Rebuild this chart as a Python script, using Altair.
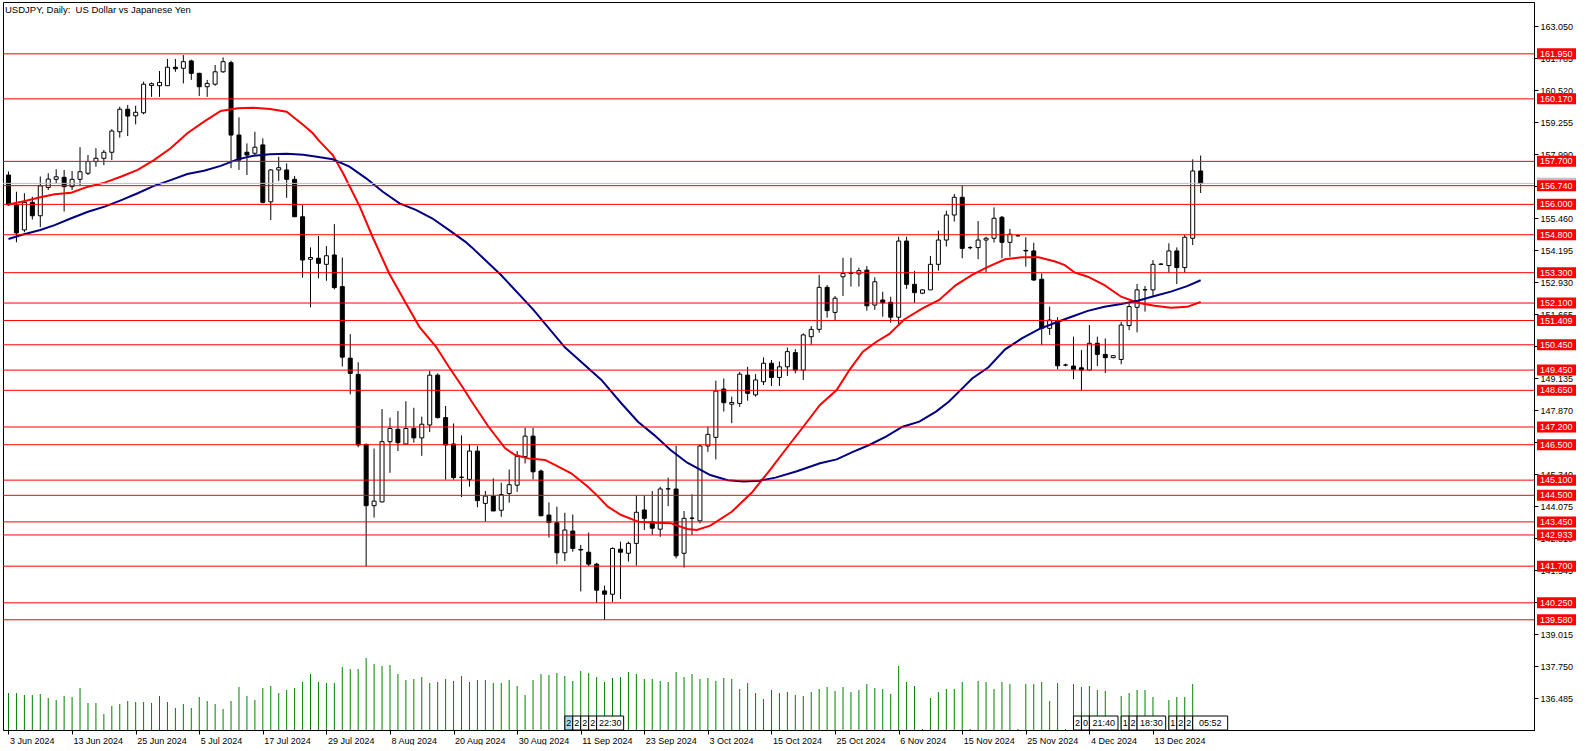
import altair as alt
import pandas as pd

# ---------------- data ----------------
date_labels = ["3 Jun 2024", "13 Jun 2024", "25 Jun 2024", "5 Jul 2024", "17 Jul 2024",
               "29 Jul 2024", "8 Aug 2024", "20 Aug 2024", "30 Aug 2024", "11 Sep 2024",
               "23 Sep 2024", "3 Oct 2024", "15 Oct 2024", "25 Oct 2024", "6 Nov 2024",
               "15 Nov 2024", "25 Nov 2024", "4 Dec 2024", "13 Dec 2024"]
label_bars = [0, 8, 16, 24, 32, 40, 48, 56, 64, 72, 80, 88, 96, 104, 112, 120, 128, 136, 144]

opens = [157.16, 155.97, 154.99, 156.08, 155.55, 156.67, 156.99, 157.07, 156.70, 156.99,
         157.23, 157.69, 157.82, 158.06, 158.87, 159.76, 159.50, 159.62, 160.70, 160.69,
         160.69, 161.42, 161.38, 161.67, 161.18, 160.65, 160.75, 161.24, 161.60, 158.74,
         158.06, 158.02, 158.35, 156.10, 157.36, 157.36, 156.99, 155.51, 153.83, 153.87,
         153.63, 154.00, 152.75, 149.92, 149.28, 146.51, 144.09, 144.24, 146.62, 147.11,
         146.53, 147.14, 146.77, 147.28, 149.25, 147.57, 146.53, 145.21, 145.13, 146.25,
         144.18, 144.47, 143.91, 144.57, 144.90, 146.03, 146.84, 145.46, 143.72, 143.42,
         142.23, 143.09, 142.36, 142.25, 141.78, 140.72, 140.59, 142.37, 142.21, 142.60,
         143.92, 143.46, 143.16, 144.75, 144.75, 142.21, 143.59, 143.49, 146.45, 146.79,
         148.70, 148.10, 148.13, 149.25, 148.47, 148.99, 149.72, 149.16, 149.58, 150.14,
         149.45, 150.77, 151.06, 152.72, 151.73, 153.14, 153.27, 153.25, 153.40, 152.02,
         152.22, 152.13, 151.54, 154.55, 152.84, 152.49, 152.62, 153.63, 154.59, 155.58,
         156.28, 154.29, 154.29, 154.59, 154.66, 155.49, 154.50, 154.76, 154.18, 154.16,
         153.04, 151.10, 151.39, 149.65, 149.61, 149.54, 149.45, 150.51, 150.07, 149.94,
         149.87, 151.21, 151.93, 152.62, 152.62, 153.63, 153.58, 154.16, 153.50, 154.66,
         157.32]
highs = [157.30, 156.50, 156.44, 156.30, 157.10, 157.23, 157.39, 157.36, 157.32, 158.26,
         157.95, 158.22, 158.15, 158.97, 159.86, 159.93, 159.90, 160.85, 160.82, 161.27,
         161.75, 161.75, 161.90, 161.72, 161.20, 160.92, 161.51, 161.81, 161.68, 159.44,
         158.41, 158.87, 158.61, 157.40, 157.88, 157.62, 157.12, 155.97, 154.30, 154.75,
         154.35, 155.22, 153.90, 150.87, 149.76, 146.55, 146.35, 147.91, 147.57, 147.83,
         148.22, 147.96, 147.61, 149.43, 149.32, 148.03, 147.34, 146.87, 146.53, 146.46,
         144.67, 145.17, 145.00, 145.52, 146.25, 147.17, 147.17, 145.52, 144.22, 144.05,
         143.81, 143.74, 142.54, 143.03, 141.83, 140.93, 142.44, 142.67, 142.67, 144.49,
         144.49, 144.67, 144.84, 145.20, 146.46, 143.88, 144.54, 146.51, 147.21, 149.03,
         149.12, 148.40, 149.38, 149.58, 149.29, 149.95, 149.85, 149.79, 150.34, 150.28,
         150.90, 151.19, 153.21, 152.81, 152.38, 153.89, 153.89, 153.50, 153.56, 153.12,
         152.55, 152.35, 154.72, 154.72, 153.37, 152.64, 153.96, 154.96, 155.75, 156.41,
         156.74, 154.35, 155.34, 154.72, 155.88, 155.54, 155.03, 154.80, 154.70, 154.48,
         153.27, 151.96, 151.54, 149.70, 150.77, 150.24, 151.23, 150.77, 150.70, 150.04,
         151.36, 152.09, 152.85, 152.77, 153.80, 153.68, 154.46, 154.30, 154.79, 157.78,
         157.93]
lows = [155.95, 154.50, 154.90, 155.40, 155.10, 156.57, 156.83, 155.72, 156.57, 156.76,
        157.16, 157.49, 157.55, 157.75, 158.64, 158.70, 159.16, 159.56, 160.25, 160.25,
        160.69, 161.24, 160.78, 160.92, 160.28, 160.25, 160.69, 161.20, 157.43, 157.36,
        157.16, 157.95, 156.04, 155.38, 156.93, 156.26, 155.51, 153.10, 151.93, 153.08,
        152.98, 152.64, 149.59, 148.49, 146.40, 141.70, 143.62, 144.22, 145.39, 146.25,
        146.49, 146.58, 146.06, 147.00, 147.54, 145.12, 145.12, 144.43, 144.84, 144.03,
        143.46, 143.88, 143.65, 144.21, 144.64, 145.76, 145.13, 143.69, 142.83, 141.77,
        141.90, 142.27, 140.70, 141.70, 140.25, 139.57, 140.29, 140.40, 141.88, 141.72,
        143.13, 142.93, 142.86, 144.07, 142.01, 141.64, 142.93, 143.39, 146.22, 145.92,
        147.81, 147.35, 148.00, 148.24, 148.40, 148.86, 148.82, 148.82, 149.22, 149.32,
        149.06, 150.44, 150.93, 151.52, 151.40, 152.38, 152.75, 152.75, 151.80, 151.83,
        151.56, 151.32, 151.23, 152.66, 152.11, 152.45, 152.62, 153.38, 154.33, 155.32,
        153.87, 154.22, 153.83, 153.31, 154.49, 153.87, 153.93, 154.72, 153.54, 152.98,
        150.44, 150.84, 149.48, 149.60, 149.09, 148.66, 149.45, 149.61, 149.33, 149.92,
        149.68, 151.03, 150.94, 151.76, 152.39, 153.60, 153.30, 152.85, 153.30, 154.39,
        156.45]
closes = [155.98, 154.87, 156.08, 155.55, 156.73, 157.00, 157.09, 156.70, 156.99, 157.29,
          157.69, 157.82, 158.06, 158.90, 159.76, 159.49, 159.64, 160.75, 160.77, 160.82,
          161.42, 161.36, 161.64, 161.18, 160.65, 160.78, 161.24, 161.64, 158.74, 157.75,
          157.95, 158.26, 156.08, 157.36, 157.45, 156.99, 155.51, 153.80, 153.90, 153.67,
          153.97, 152.71, 149.96, 149.32, 146.49, 144.09, 144.27, 146.62, 147.14, 146.58,
          147.14, 146.77, 147.31, 149.25, 147.57, 146.49, 145.20, 145.22, 146.25, 144.29,
          144.47, 143.88, 144.53, 144.92, 146.03, 146.84, 145.43, 143.69, 143.43, 142.23,
          143.13, 142.40, 142.34, 141.78, 140.75, 140.59, 142.40, 142.25, 142.60, 143.83,
          143.59, 143.20, 144.75, 144.76, 142.11, 143.59, 143.60, 146.45, 146.91, 148.62,
          148.16, 148.17, 149.29, 148.53, 149.06, 149.72, 149.16, 149.58, 150.18, 149.45,
          150.84, 151.06, 152.72, 151.80, 152.29, 153.27, 153.31, 153.38, 151.99, 152.94,
          152.11, 151.54, 154.55, 152.84, 152.51, 152.62, 153.63, 154.59, 155.58, 156.28,
          154.26, 154.29, 154.59, 154.66, 155.45, 154.50, 154.82, 154.76, 154.16, 153.01,
          151.10, 151.43, 149.62, 149.65, 149.48, 149.45, 150.51, 150.07, 149.94, 150.02,
          151.23, 151.96, 152.62, 152.63, 153.63, 153.64, 154.16, 153.50, 154.70, 157.32,
          156.83]
volumes = [37000, 37000, 35000, 35000, 36000, 32000, 30000, 34000, 33000, 42000,
           27000, 27000, 16000, 24000, 26000, 29000, 28000, 28000, 27000, 34000,
           28000, 22000, 26000, 22000, 33000, 29000, 26000, 21000, 29000, 43000,
           34000, 30000, 42000, 44000, 37000, 40000, 42000, 48000, 56000, 48000,
           47000, 47000, 63000, 61000, 61000, 72000, 66000, 64000, 65000, 56000,
           50000, 51000, 53000, 47000, 48000, 51000, 49000, 54000, 48000, 50000,
           50000, 47000, 47000, 50000, 44000, 35000, 50000, 56000, 55000, 57000,
           54000, 49000, 59000, 57000, 53000, 48000, 52000, 53000, 58000, 56000,
           51000, 51000, 49000, 48000, 58000, 53000, 56000, 51000, 52000, 49000,
           52000, 51000, 41000, 47000, 37000, 31000, 40000, 37000, 38000, 35000,
           34000, 38000, 41000, 43000, 39000, 43000, 38000, 40000, 46000, 42000,
           41000, 36000, 64000, 48000, 44000, 1000, 32000, 38000, 41000, 41000,
           48000, 1000, 49000, 48000, 41000, 48000, 46000, 1000, 46000, 46000,
           48000, 29000, 47000, 1000, 46000, 43000, 44000, 40000, 39000, 1000,
           34000, 37000, 40000, 40000, 33000, 1000, 30000, 33000, 33000, 46000,
           3000]

red_ma_bar = [0, 2.1, 4, 5.8, 7.9, 10, 12.1, 14.2, 16.25, 18.3, 20.4, 22.5, 24.6, 26.7, 28.8,
              30.8, 32.9, 35, 37.1, 38.3, 39, 40.8, 42.1, 44.2, 45.8, 47.9, 50, 51.7, 53.8,
              55.4, 57.1, 58.3, 60.4, 62.5, 63.75, 65.4, 67.5, 68.75, 70.8, 72.9, 74.2, 75.4,
              77.1, 79.2, 81.25, 83.3, 85.4, 86.6, 88.3, 91, 93.5, 95.8, 97.9, 100, 102.1,
              104.2, 105.8, 107.5, 109.2, 110.8, 112.7, 115, 117.1, 119.2, 121.25, 123.3,
              125.4, 127.5, 129.6, 131.7, 132.9, 134.2, 135.8, 137.9, 140, 142.1, 144.2,
              146.25, 148.3, 150]
red_ma_val = [156.00, 156.13, 156.28, 156.40, 156.46, 156.70, 156.86, 157.10, 157.36, 157.75,
              158.22, 158.81, 159.27, 159.69, 159.80, 159.82, 159.77, 159.66, 159.14, 158.81,
              158.54, 157.95, 157.23, 155.91, 154.72, 153.27, 152.09, 151.16, 150.37, 149.58,
              148.79, 148.20, 147.21, 146.36, 146.09, 145.96, 145.90, 145.70, 145.37, 144.84,
              144.45, 144.05, 143.72, 143.46, 143.42, 143.40, 143.17, 143.13, 143.30, 143.85,
              144.60, 145.50, 146.36, 147.21, 148.07, 148.66, 149.45, 150.18, 150.57, 150.87,
              151.45, 151.89, 152.22, 152.81, 153.21, 153.54, 153.83, 153.91, 153.91, 153.74,
              153.60, 153.30, 153.14, 152.81, 152.35, 152.11, 151.99, 151.91, 151.95, 152.14]
navy_ma_bar = [0, 1.6, 4, 5.8, 7.9, 10, 12.1, 14.2, 16.25, 18.3, 20.4, 22.5, 24.6, 26.7, 28.8,
               30.8, 32.9, 35, 37.1, 38.8, 40.8, 42.9, 45, 47.1, 49.2, 51.25, 53.3, 55.4, 57.5,
               58.3, 62, 66, 70, 74.6, 77.1, 79.2, 81.25, 83.3, 85.4, 88.3, 90.5, 92.5, 94.5,
               96.5, 99.2, 102.1, 104.2, 106.25, 108.3, 110.4, 112.5, 114.6, 116.7, 118.3,
               119.6, 121.25, 123.3, 125.4, 127.5, 129.6, 131.7, 133.75, 135.8, 137.9, 140,
               142.1, 144.2, 146.25, 148.3, 150]
navy_ma_val = [154.63, 154.79, 154.99, 155.18, 155.45, 155.71, 155.91, 156.17, 156.44, 156.73,
               156.96, 157.20, 157.33, 157.52, 157.78, 157.92, 157.98, 158.00, 157.96, 157.88,
               157.78, 157.49, 157.03, 156.50, 156.04, 155.78, 155.45, 154.99, 154.52, 154.30,
               153.20, 151.85, 150.35, 149.06, 148.14, 147.41, 146.88, 146.29, 145.79, 145.30,
               145.10, 145.05, 145.08, 145.20, 145.45, 145.77, 145.92, 146.22, 146.49, 146.82,
               147.21, 147.41, 147.81, 148.20, 148.60, 149.12, 149.56, 150.27, 150.70, 151.06,
               151.32, 151.56, 151.79, 151.95, 152.06, 152.19, 152.38, 152.55, 152.77, 153.00]

levels = [161.950, 160.170, 157.700, 156.740, 156.000, 154.800, 153.300, 152.100, 151.409,
          150.450, 149.450, 148.650, 147.200, 146.500, 145.100, 144.500, 143.450, 142.933,
          141.700, 140.250, 139.580]
bid_price = [156.83]
price_ticks = [163.050, 161.785, 160.520, 159.255, 157.990, 156.725, 155.460, 154.195,
               152.930, 151.665, 150.400, 149.135, 147.870, 146.605, 145.340, 144.075,
               142.810, 141.545, 140.280, 139.015, 137.750, 136.485]

ev_start = [70, 71, 72, 73, 74, 134, 135, 136, 140, 141, 142, 146, 147, 148, 149]
ev_end = [71, 72, 73, 74, 77.4, 135, 136, 139.6, 141, 142, 145.6, 147, 148, 149, 153.4]
ev_text = ["2", "2", "2", "2", "22:30", "2", "0", "21:40", "1", "2", "18:30", "1", "2", "2", "05:52"]
ev_kind = ["sel"] + ["norm"] * 14

title_text = "USDJPY, Daily:\u00a0 US Dollar vs Japanese Yen"

# ---------------- frames ----------------
bars = pd.DataFrame({"i": list(range(len(opens))), "o": opens, "h": highs, "l": lows,
                     "c": closes, "v": volumes})
bars["dir"] = ["up" if c >= o else "down" for o, c in zip(opens, closes)]
red_df = pd.DataFrame({"i": red_ma_bar, "p": red_ma_val})
navy_df = pd.DataFrame({"i": navy_ma_bar, "p": navy_ma_val})
lev_df = pd.DataFrame({"p": levels})
bid_df = pd.DataFrame({"p": bid_price})
ev_df = pd.DataFrame({"s": ev_start, "e": ev_end, "t": ev_text, "k": ev_kind})
ev_df["m"] = (ev_df["s"] + ev_df["e"]) / 2
title_df = pd.DataFrame({"t": [title_text]})

# ---------------- scales / axes ----------------
W, H = 1531, 728
FONT = "Liberation Sans"
xs = alt.Scale(domain=[-0.0625, 191.3125], nice=False, zero=False)
ys = alt.Scale(domain=[135.224, 163.999], nice=False, zero=False)
vs = alt.Scale(domain=[0, 728000], nice=False, zero=True)

lab_js = "[" + ",".join("'" + s + "'" for s in date_labels) + "]"
x_axis = alt.Axis(values=label_bars, labelExpr=lab_js + "[round(datum.value / 8)]",
                  tickSize=4, tickColor="black", domainColor="black", labelAlign="left",
                  labelBaseline="top", labelPadding=2, labelOffset=1, labelFont=FONT,
                  labelFontSize=9, labelColor="black", grid=False, title=None,
                  labelOverlap=False, labelFlush=False)
y_axis = alt.Axis(orient="right", values=price_ticks, format=".3f", tickSize=4,
                  tickColor="black", domainColor="black", labelPadding=2, labelFont=FONT,
                  labelFontSize=9, labelColor="black", grid=False, title=None,
                  labelOverlap=False, labelFlush=False)


def X(field="i"):
    return alt.X(field + ":Q", scale=xs, axis=x_axis)


volume = alt.Chart(bars).mark_rule(color="#008000", strokeWidth=1, clip=True).encode(
    x=X(), y=alt.Y("v:Q", scale=vs, axis=None), y2=alt.datum(0))
wicks = alt.Chart(bars).mark_rule(color="black", strokeWidth=1, clip=True).encode(
    x=X(), y=alt.Y("l:Q", scale=ys, axis=y_axis), y2="h:Q")
bodies = alt.Chart(bars).mark_bar(size=4, stroke="black", strokeWidth=1, clip=True).encode(
    x=X(), y=alt.Y("o:Q", scale=ys, axis=None), y2="c:Q",
    fill=alt.Fill("dir:N", scale=alt.Scale(domain=["up", "down"], range=["white", "black"]),
                  legend=None))
red_line = alt.Chart(red_df).mark_line(color="#ff0000", strokeWidth=2, clip=True).encode(
    x=X(), y=alt.Y("p:Q", scale=ys, axis=None))
navy_line = alt.Chart(navy_df).mark_line(color="#000080", strokeWidth=2, clip=True).encode(
    x=X(), y=alt.Y("p:Q", scale=ys, axis=None))
bid_line = alt.Chart(bid_df).mark_rule(color="#c0c0c0", strokeWidth=1).encode(
    y=alt.Y("p:Q", scale=ys, axis=None))
level_lines = alt.Chart(lev_df).mark_rule(color="#ff0000", strokeWidth=1).encode(
    y=alt.Y("p:Q", scale=ys, axis=None))
bid_box = alt.Chart(bid_df).mark_tick(orient="horizontal", size=39, thickness=11,
                                      color="#c0c0c0", opacity=1).encode(
    y=alt.Y("p:Q", scale=ys, axis=None), x=alt.value(W + 22.5))
level_boxes = alt.Chart(lev_df).mark_tick(orient="horizontal", size=39, thickness=11,
                                          color="#ff0000", opacity=1).encode(
    y=alt.Y("p:Q", scale=ys, axis=None), x=alt.value(W + 22.5))
level_text = alt.Chart(lev_df).mark_text(align="left", baseline="middle", color="white",
                                         font=FONT, fontSize=9).encode(
    y=alt.Y("p:Q", scale=ys, axis=None), x=alt.value(W + 6),
    text=alt.Text("p:Q", format=".3f"))
ev_boxes = alt.Chart(ev_df).mark_rect(stroke="black", strokeWidth=1).encode(
    x=X("s"), x2="e:Q",
    y=alt.value(H - 14), y2=alt.value(H),
    fill=alt.Fill("k:N", scale=alt.Scale(domain=["sel", "norm"], range=["#a6dcef", "white"]),
                  legend=None))
ev_text_l = alt.Chart(ev_df).mark_text(align="center", baseline="middle", font=FONT,
                                       fontSize=9, color="black").encode(
    x=X("m"), y=alt.value(H - 7), text="t:N")
title = alt.Chart(title_df).mark_text(align="left", baseline="middle", font=FONT,
                                      fontSize=9.5, color="black").encode(
    x=alt.value(2), y=alt.value(8), text="t:N")

chart = alt.layer(
    volume, wicks, bodies, red_line, navy_line, bid_line, level_lines,
    bid_box, level_boxes, level_text, ev_boxes, ev_text_l, title
).resolve_scale(y="independent", fill="independent").properties(
    width=W, height=H,
    padding={"left": 2, "top": 2, "right": 0, "bottom": 0},
    background="white",
).configure_view(stroke="black", strokeWidth=1)

chart.save("out.html", embed_options={"renderer": "svg", "actions": False})
